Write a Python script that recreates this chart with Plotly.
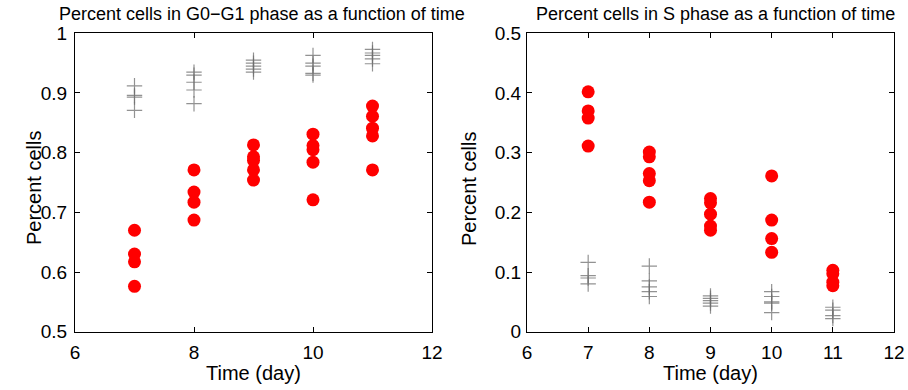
import plotly.graph_objects as go

# ---- data ----
days = [7, 8, 9, 10, 11]

g1_red = [
    [0.670, 0.630, 0.617, 0.576],
    [0.771, 0.734, 0.717, 0.687],
    [0.813, 0.793, 0.787, 0.771, 0.754],
    [0.831, 0.812, 0.805, 0.784, 0.721],
    [0.878, 0.861, 0.841, 0.828, 0.771],
]
g1_gray = [
    [0.912, 0.896, 0.893, 0.871],
    [0.935, 0.930, 0.918, 0.905, 0.882],
    [0.955, 0.950, 0.945, 0.940, 0.935],
    [0.963, 0.950, 0.945, 0.933, 0.930],
    [0.973, 0.967, 0.963, 0.957, 0.949],
]
s_red = [
    [0.402, 0.370, 0.358, 0.311],
    [0.301, 0.293, 0.265, 0.253, 0.217],
    [0.223, 0.216, 0.197, 0.177, 0.170],
    [0.261, 0.187, 0.156, 0.133],
    [0.103, 0.097, 0.083, 0.077],
]
s_gray = [
    [0.116, 0.094, 0.090, 0.080],
    [0.110, 0.085, 0.075, 0.067, 0.059],
    [0.060, 0.056, 0.052, 0.048, 0.043],
    [0.067, 0.059, 0.050, 0.048, 0.032],
    [0.041, 0.036, 0.027, 0.022],
]

left_title = "Percent cells in G0\u2212G1 phase as a function of time"
right_title = "Percent cells in S phase as a function of time"
x_title = "Time (day)"
y_title = "Percent cells"


def flatten(groups):
    xs, ys = [], []
    for d, vals in zip(days, groups):
        for v in vals:
            xs.append(d)
            ys.append(v)
    return xs, ys


W, H = 908, 390
FONT = "Liberation Sans, Arial, Helvetica, sans-serif"
GRAY = "rgba(110,110,110,0.75)"
RED = "#ff0000"
TXT = "#000"

fig = go.Figure()

for groups, xa, ya in [(g1_gray, "x", "y"), (s_gray, "x2", "y2")]:
    xs, ys = flatten(groups)
    fig.add_trace(go.Scatter(x=xs, y=ys, xaxis=xa, yaxis=ya, mode="markers",
                             marker=dict(symbol="cross-thin", size=11,
                                         line=dict(color=GRAY, width=1.2)),
                             showlegend=False, hoverinfo="skip"))
for groups, xa, ya in [(g1_red, "x", "y"), (s_red, "x2", "y2")]:
    xs, ys = flatten(groups)
    fig.add_trace(go.Scatter(x=xs, y=ys, xaxis=xa, yaxis=ya, mode="markers",
                             marker=dict(symbol="circle", size=13, color=RED,
                                         line=dict(width=0)),
                             showlegend=False, hoverinfo="skip"))

# pixel geometry
L1, R1 = 75, 432
L2, R2 = 527, 894
TOP, BOT = 33.3, 331.7


def px_x(p):
    return p / W


def px_y(p):
    return 1 - p / H


axis_common = dict(showgrid=False, zeroline=False, showline=True, automargin=False,
                   linecolor="black", linewidth=1.2, mirror="allticks",
                   ticks="inside", ticklen=5, tickwidth=1, tickcolor="black",
                   tickfont=dict(family=FONT, size=19, color=TXT))

fig.update_layout(
    template="none",
    width=W, height=H,
    margin=dict(l=0, r=0, t=0, b=0, pad=0),
    paper_bgcolor="white", plot_bgcolor="white",
    font=dict(family=FONT, color=TXT),
    xaxis=dict(domain=[px_x(L1), px_x(R1)], range=[6, 12], tickvals=[6, 8, 10, 12],
               anchor="y", ticklabelstandoff=3, **axis_common),
    yaxis=dict(domain=[px_y(BOT), px_y(TOP)], range=[0.5, 1],
               tickvals=[0.5, 0.6, 0.7, 0.8, 0.9, 1],
               ticktext=["0.5", "0.6", "0.7", "0.8", "0.9", "1"],
               anchor="x", ticklabelstandoff=3, **axis_common),
    xaxis2=dict(domain=[px_x(L2), px_x(R2)], range=[6, 12],
                tickvals=[6, 7, 8, 9, 10, 11, 12], anchor="y2", ticklabelstandoff=3,
                **axis_common),
    yaxis2=dict(domain=[px_y(BOT), px_y(TOP)], range=[0, 0.5],
                tickvals=[0, 0.1, 0.2, 0.3, 0.4, 0.5],
                ticktext=["0", "0.1", "0.2", "0.3", "0.4", "0.5"],
                anchor="x2", ticklabelstandoff=1, **axis_common),
)

ann = []
ann.append(dict(text=left_title, x=px_x(262), y=px_y(14), xref="paper", yref="paper",
                xanchor="center", yanchor="middle", showarrow=False,
                font=dict(family=FONT, size=18, color=TXT)))
ann.append(dict(text=right_title, x=px_x(715), y=px_y(14), xref="paper", yref="paper",
                xanchor="center", yanchor="middle", showarrow=False,
                font=dict(family=FONT, size=18, color=TXT)))
for cx in [(L1 + R1) / 2, (L2 + R2) / 2]:
    ann.append(dict(text=x_title, x=px_x(cx), y=px_y(373), xref="paper", yref="paper",
                    xanchor="center", yanchor="middle", showarrow=False,
                    font=dict(family=FONT, size=20, color=TXT)))
for cx in [34, 469]:
    ann.append(dict(text=y_title, x=px_x(cx), y=px_y(188), xref="paper", yref="paper",
                    xanchor="center", yanchor="middle", showarrow=False, textangle=-90,
                    font=dict(family=FONT, size=20, color=TXT)))
fig.update_layout(annotations=ann)

fig.write_html("out.html", config={"displayModeBar": False},
               post_script="document.body.style.margin='0';document.body.style.padding='0';")
